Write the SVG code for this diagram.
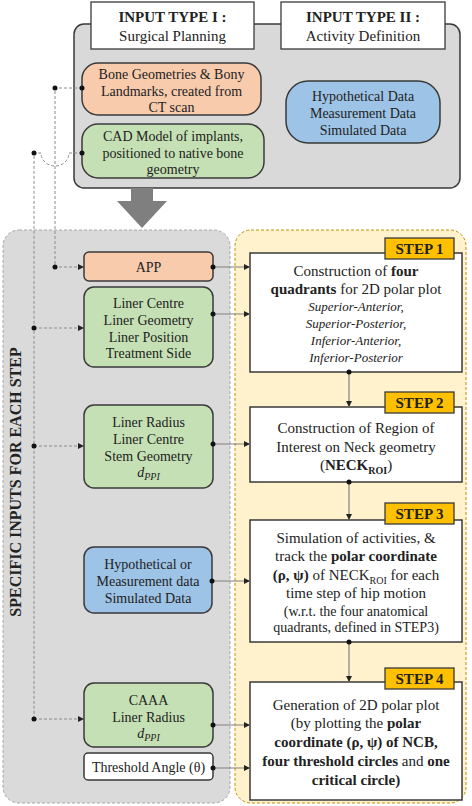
<svg xmlns="http://www.w3.org/2000/svg" width="472" height="806" viewBox="0 0 472 806">
<defs>
<style>
text{font-family:"Liberation Serif","Times New Roman",serif;fill:#222;text-anchor:middle}
.t14{font-size:14px}
.t15{font-size:15px}
.it{font-size:13px;font-style:italic}
.b{font-weight:bold}
.box{stroke:#3a3a3a;stroke-width:1.5}
.orange{fill:#F8CBAD}
.green{fill:#C5E0B4}
.blue{fill:#9DC3E6}
.white{fill:#FFFFFF}
.step{fill:#FFFFFF;stroke:#3a3a3a;stroke-width:1.5}
.lbl{fill:#FFC000;stroke:#3a3a3a;stroke-width:1.3}
.solid{stroke:#808080;stroke-width:1.2;fill:none}
.dash{stroke:#8c8c8c;stroke-width:1;stroke-dasharray:3,2;fill:none}
.dot{fill:#111}
</style>
<marker id="ah" viewBox="0 0 8 8" refX="8" refY="4" markerWidth="7" markerHeight="6" markerUnits="userSpaceOnUse" orient="auto">
<path d="M0,0 L8,4 L0,8 z" fill="#222"/>
</marker>
</defs>

<!-- top input panel -->
<g id="inputPanel">
<rect x="74" y="24" width="386" height="164" rx="10" fill="#D9D9D9" stroke="#3a3a3a" stroke-width="1.5"/>
</g>
<g id="header1">
<rect x="91" y="2" width="163" height="47" fill="#fff" stroke="#3a3a3a" stroke-width="1.3"/>
<text x="172.5" y="22" class="t15 b">INPUT TYPE I :</text>
<text x="172.5" y="41" class="t15">Surgical Planning</text>
</g>
<g id="header2">
<rect x="281" y="2" width="164" height="47" fill="#fff" stroke="#3a3a3a" stroke-width="1.3"/>
<text x="363" y="22" class="t15 b">INPUT TYPE II :</text>
<text x="363" y="41" class="t15">Activity Definition</text>
</g>
<g id="boneGeom">
<rect x="82" y="63" width="179" height="52" rx="16" class="box orange"/>
<text x="171.5" y="79" class="t14">Bone Geometries &amp; Bony</text>
<text x="171.5" y="96" class="t14">Landmarks, created from</text>
<text x="171.5" y="112" class="t14">CT scan</text>
</g>
<g id="cadModel">
<rect x="82" y="124" width="182" height="54" rx="16" class="box green"/>
<text x="173" y="141" class="t14">CAD Model of implants,</text>
<text x="173" y="158" class="t14">positioned to native bone</text>
<text x="173" y="174" class="t14">geometry</text>
</g>
<g id="activityData">
<rect x="286" y="81" width="154" height="62" rx="22" class="box blue"/>
<text x="363" y="101" class="t14">Hypothetical Data</text>
<text x="363" y="118" class="t14">Measurement Data</text>
<text x="363" y="135" class="t14">Simulated Data</text>
</g>
<g id="bigArrow">
<polygon points="131,188 153,188 153,201 167,201 142,228 117,201 131,201" fill="#7F7F7F"/>
</g>

<!-- panels -->
<g id="inputsPanel">
<rect x="3" y="230" width="227" height="573" rx="16" fill="#DADADA" stroke="#A6A6A6" stroke-width="1" stroke-dasharray="3,2"/>
<text transform="translate(21,482) rotate(-90)" class="b" font-size="16">SPECIFIC INPUTS FOR EACH STEP</text>
</g>
<g id="stepsPanel">
<rect x="235" y="230" width="231" height="573" rx="16" fill="#FFF2CC" stroke="#BF9000" stroke-width="1" stroke-dasharray="3,2"/>
</g>

<!-- inputs -->
<g id="app">
<rect x="84" y="252" width="129" height="29" rx="5" class="box orange"/>
<text x="148.5" y="272" class="t14">APP</text>
</g>
<g id="linerCentre">
<rect x="84" y="287" width="129" height="80" rx="10" class="box green"/>
<text x="148.5" y="308" class="t14">Liner Centre</text>
<text x="148.5" y="325" class="t14">Liner Geometry</text>
<text x="148.5" y="342" class="t14">Liner Position</text>
<text x="148.5" y="358" class="t14">Treatment Side</text>
</g>
<g id="linerRadius">
<rect x="84" y="405" width="129" height="83" rx="10" class="box green"/>
<text x="148.5" y="427" class="t14">Liner Radius</text>
<text x="148.5" y="444" class="t14">Liner Centre</text>
<text x="148.5" y="461" class="t14">Stem Geometry</text>
<text x="148.5" y="477" class="t14"><tspan font-style="italic">d</tspan><tspan font-style="italic" font-size="10" dy="3">PPI</tspan></text>
</g>
<g id="hypothetical">
<rect x="84" y="547" width="128" height="66" rx="10" class="box blue"/>
<text x="148" y="569" class="t14">Hypothetical or</text>
<text x="148" y="586" class="t14">Measurement data</text>
<text x="148" y="603" class="t14">Simulated Data</text>
</g>
<g id="caaa">
<rect x="84" y="683" width="129" height="64" rx="10" class="box green"/>
<text x="148.5" y="705" class="t14">CAAA</text>
<text x="148.5" y="722" class="t14">Liner Radius</text>
<text x="148.5" y="738" class="t14"><tspan font-style="italic">d</tspan><tspan font-style="italic" font-size="10" dy="3">PPI</tspan></text>
</g>
<g id="threshold">
<rect x="84" y="753" width="129" height="27" rx="4" class="box white"/>
<text x="148.5" y="772" class="t14">Threshold Angle (θ)</text>
</g>

<!-- steps -->
<g id="step1">
<rect x="250" y="253" width="212" height="119" class="step"/>
<text x="356" y="276" class="t15">Construction of <tspan class="b">four</tspan></text>
<text x="356" y="294" class="t15"><tspan class="b">quadrants</tspan> for 2D polar plot</text>
<text x="356" y="311" class="it">Superior-Anterior,</text>
<text x="356" y="328" class="it">Superior-Posterior,</text>
<text x="356" y="345" class="it">Inferior-Anterior,</text>
<text x="356" y="362" class="it">Inferior-Posterior</text>
<rect x="385" y="238" width="69" height="21" class="lbl"/>
<text x="419.5" y="254" class="t15 b">STEP 1</text>
</g>
<g id="step2">
<rect x="250" y="407" width="212" height="75" class="step"/>
<text x="356" y="433" class="t15">Construction of Region of</text>
<text x="356" y="452" class="t15">Interest on Neck geometry</text>
<text x="356" y="470" class="t15">(<tspan class="b">NECK</tspan><tspan class="b" font-size="10" dy="4">ROI</tspan><tspan dy="-4">)</tspan></text>
<rect x="385" y="392" width="69" height="21" class="lbl"/>
<text x="419.5" y="408" class="t15 b">STEP 2</text>
</g>
<g id="step3">
<rect x="250" y="520" width="212" height="122" class="step"/>
<text x="356" y="543" class="t15">Simulation of activities, &amp;</text>
<text x="356" y="561" class="t15">track the <tspan class="b">polar coordinate</tspan></text>
<text x="356" y="580" class="t15"><tspan class="b">(ρ, ψ)</tspan> of NECK<tspan font-size="10" dy="4">ROI</tspan><tspan dy="-4"> for each</tspan></text>
<text x="356" y="598" class="t15">time step of hip motion</text>
<text x="356" y="616" class="t14">(w.r.t. the four anatomical</text>
<text x="356" y="632" class="t14">quadrants, defined in STEP3)</text>
<rect x="385" y="503" width="69" height="21" class="lbl"/>
<text x="419.5" y="519" class="t15 b">STEP 3</text>
</g>
<g id="step4">
<rect x="250" y="682" width="212" height="118" class="step"/>
<text x="356" y="710" class="t15">Generation of 2D polar plot</text>
<text x="356" y="728" class="t15">(by plotting the <tspan class="b">polar</tspan></text>
<text x="356" y="747" class="t15 b">coordinate (ρ, ψ) of NCB,</text>
<text x="356" y="766" class="t15"><tspan class="b">four threshold circles</tspan> and <tspan class="b">one</tspan></text>
<text x="356" y="785" class="t15 b">critical circle)</text>
<rect x="385" y="668" width="69" height="21" class="lbl"/>
<text x="419.5" y="684" class="t15 b">STEP 4</text>
</g>

<!-- connectors -->
<g id="connectors">
<path class="dash" d="M82,88 H55 V267 H84" marker-end="url(#ah)"/>
<path class="dash" d="M82,153 H69 A14,13 0 0 1 41,153 H34 V719"/>
<path class="dash" d="M34,328 H84" marker-end="url(#ah)"/>
<path class="dash" d="M34,446 H84" marker-end="url(#ah)"/>
<path class="dash" d="M34,719 H84" marker-end="url(#ah)"/>
<circle class="dot" cx="82" cy="88" r="2.5"/>
<circle class="dot" cx="55" cy="88" r="2.5"/>
<circle class="dot" cx="55" cy="267" r="2.5"/>
<circle class="dot" cx="82" cy="153" r="2.5"/>
<circle class="dot" cx="34" cy="153" r="2.5"/>
<circle class="dot" cx="34" cy="328" r="2.5"/>
<circle class="dot" cx="34" cy="446" r="2.5"/>
<circle class="dot" cx="34" cy="719" r="2.5"/>

<path class="solid" d="M213,267 H250" marker-end="url(#ah)"/>
<path class="solid" d="M213,314 H250" marker-end="url(#ah)"/>
<path class="solid" d="M213,444 H250" marker-end="url(#ah)"/>
<path class="solid" d="M212,581 H250" marker-end="url(#ah)"/>
<path class="solid" d="M213,725 H250" marker-end="url(#ah)"/>
<path class="solid" d="M213,768 H250" marker-end="url(#ah)"/>
<circle class="dot" cx="213" cy="267" r="2.5"/>
<circle class="dot" cx="213" cy="314" r="2.5"/>
<circle class="dot" cx="213" cy="444" r="2.5"/>
<circle class="dot" cx="212" cy="581" r="2.5"/>
<circle class="dot" cx="213" cy="725" r="2.5"/>
<circle class="dot" cx="213" cy="768" r="2.5"/>

<path class="solid" d="M349,372 V407" marker-end="url(#ah)"/>
<path class="solid" d="M349,482 V520" marker-end="url(#ah)"/>
<path class="solid" d="M349,642 V682" marker-end="url(#ah)"/>
<circle class="dot" cx="349" cy="372" r="2.5"/>
<circle class="dot" cx="349" cy="482" r="2.5"/>
<circle class="dot" cx="349" cy="642" r="2.5"/>
</g>
</svg>
